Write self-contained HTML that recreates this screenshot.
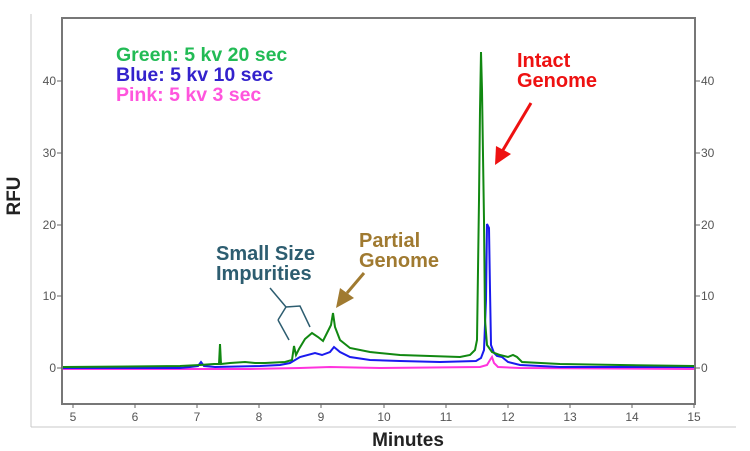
<!DOCTYPE html>
<html><head><meta charset="utf-8"><style>
body{margin:0;background:#fff;}
svg{display:block;font-family:"Liberation Sans",Arial,sans-serif;}
</style></head><body>
<svg width="750" height="451" viewBox="0 0 750 451" xmlns="http://www.w3.org/2000/svg">
<line x1="31" y1="14" x2="31" y2="427" stroke="#c8c8c8" stroke-width="1"/>
<line x1="31" y1="427" x2="736" y2="427" stroke="#c8c8c8" stroke-width="1"/>
<rect x="62" y="18" width="633" height="386" fill="none" stroke="#777" stroke-width="2"/>
<g font-size="12" fill="#555" stroke="#666">
<g text-anchor="end">
<line x1="57" y1="368" x2="62" y2="368"/><text x="56" y="372" stroke="none">0</text>
<line x1="57" y1="296" x2="62" y2="296"/><text x="56" y="300" stroke="none">10</text>
<line x1="57" y1="225" x2="62" y2="225"/><text x="56" y="229" stroke="none">20</text>
<line x1="57" y1="153" x2="62" y2="153"/><text x="56" y="157" stroke="none">30</text>
<line x1="57" y1="81" x2="62" y2="81"/><text x="56" y="85" stroke="none">40</text>
</g>
<g>
<line x1="695" y1="368" x2="700" y2="368"/><text x="701" y="372" stroke="none">0</text>
<line x1="695" y1="296" x2="700" y2="296"/><text x="701" y="300" stroke="none">10</text>
<line x1="695" y1="225" x2="700" y2="225"/><text x="701" y="229" stroke="none">20</text>
<line x1="695" y1="153" x2="700" y2="153"/><text x="701" y="157" stroke="none">30</text>
<line x1="695" y1="81" x2="700" y2="81"/><text x="701" y="85" stroke="none">40</text>
</g>
<g text-anchor="middle">
<line x1="73" y1="404" x2="73" y2="408"/><text x="73" y="421" stroke="none">5</text>
<line x1="135" y1="404" x2="135" y2="408"/><text x="135" y="421" stroke="none">6</text>
<line x1="197" y1="404" x2="197" y2="408"/><text x="197" y="421" stroke="none">7</text>
<line x1="259" y1="404" x2="259" y2="408"/><text x="259" y="421" stroke="none">8</text>
<line x1="321" y1="404" x2="321" y2="408"/><text x="321" y="421" stroke="none">9</text>
<line x1="384" y1="404" x2="384" y2="408"/><text x="384" y="421" stroke="none">10</text>
<line x1="446" y1="404" x2="446" y2="408"/><text x="446" y="421" stroke="none">11</text>
<line x1="508" y1="404" x2="508" y2="408"/><text x="508" y="421" stroke="none">12</text>
<line x1="570" y1="404" x2="570" y2="408"/><text x="570" y="421" stroke="none">13</text>
<line x1="632" y1="404" x2="632" y2="408"/><text x="632" y="421" stroke="none">14</text>
<line x1="694" y1="404" x2="694" y2="408"/><text x="694" y="421" stroke="none">15</text>
</g>
</g>
<text x="20" y="196" font-size="19" font-weight="bold" fill="#222" text-anchor="middle" transform="rotate(-90 20 196)">RFU</text>
<text x="408" y="446" font-size="19" font-weight="bold" fill="#222" text-anchor="middle">Minutes</text>
<!-- pink -->
<polyline fill="none" stroke="#ff33dd" stroke-width="2" points="63,369 250,369 300,368 330,367 380,368 480,367 487,365 490,360 492,357 494,363 498,367 520,368 694,369"/>
<!-- blue -->
<polyline fill="none" stroke="#1a1aee" stroke-width="2" points="63,368 180,368 190,367 198,366 201,362 204,366 215,367 260,366 280,365 290,363 300,357 315,353 322,355 330,352 334,347 340,352 350,357 370,360 400,361 440,362 476,361 481,358 484,350 486,300 487,224 489,228 490,290 491,345 494,353 497,356 502,357 508,362 520,365 560,367 694,367"/>
<!-- green -->
<polyline fill="none" stroke="#118811" stroke-width="2" points="63,367 180,366 200,365 214,364 219,364 220,344 221,364 230,363 245,362 255,363 265,363 285,362 292,360 294,346 296,355 299,349 305,339 312,333 318,337 323,341 328,331 331,325 333,313 335,327 340,340 350,348 370,352 400,355 430,356 460,357 470,355 475,350 477,340 479,200 480,110 481,52 482,90 484,220 485,320 487,345 492,352 500,355 508,357 513,355 517,357 522,362 560,364 620,365 694,366"/>
<!-- legend -->
<g font-size="19.5" font-weight="bold">
<text x="116" y="61" fill="#22bb55">Green: 5 kv 20 sec</text>
<text x="116" y="81" fill="#3322cc">Blue: 5 kv 10 sec</text>
<text x="116" y="101" fill="#ff55dd">Pink: 5 kv 3 sec</text>
</g>
<g font-size="20" font-weight="bold" fill="#ee1111">
<text x="517" y="67">Intact</text>
<text x="517" y="87">Genome</text>
</g>
<line x1="531" y1="103" x2="503" y2="150" stroke="#ee1111" stroke-width="3"/>
<polygon points="495,165 496,146 511,154" fill="#ee1111"/>
<g font-size="20" font-weight="bold" fill="#2d5d70">
<text x="216" y="260">Small Size</text>
<text x="216" y="280">Impurities</text>
</g>
<g fill="none" stroke="#2d5d70" stroke-width="1.5">
<polyline points="270,288 286,307"/>
<polyline points="278,320 286,307 300,306 310,327"/>
<polyline points="278,320 289,340"/>
</g>
<g font-size="20" font-weight="bold" fill="#a07a30">
<text x="359" y="247">Partial</text>
<text x="359" y="267">Genome</text>
</g>
<line x1="364" y1="273" x2="347" y2="293" stroke="#a07a30" stroke-width="3"/>
<polygon points="336,308 340,288 354,298" fill="#a07a30"/>
</svg>
</body></html>
